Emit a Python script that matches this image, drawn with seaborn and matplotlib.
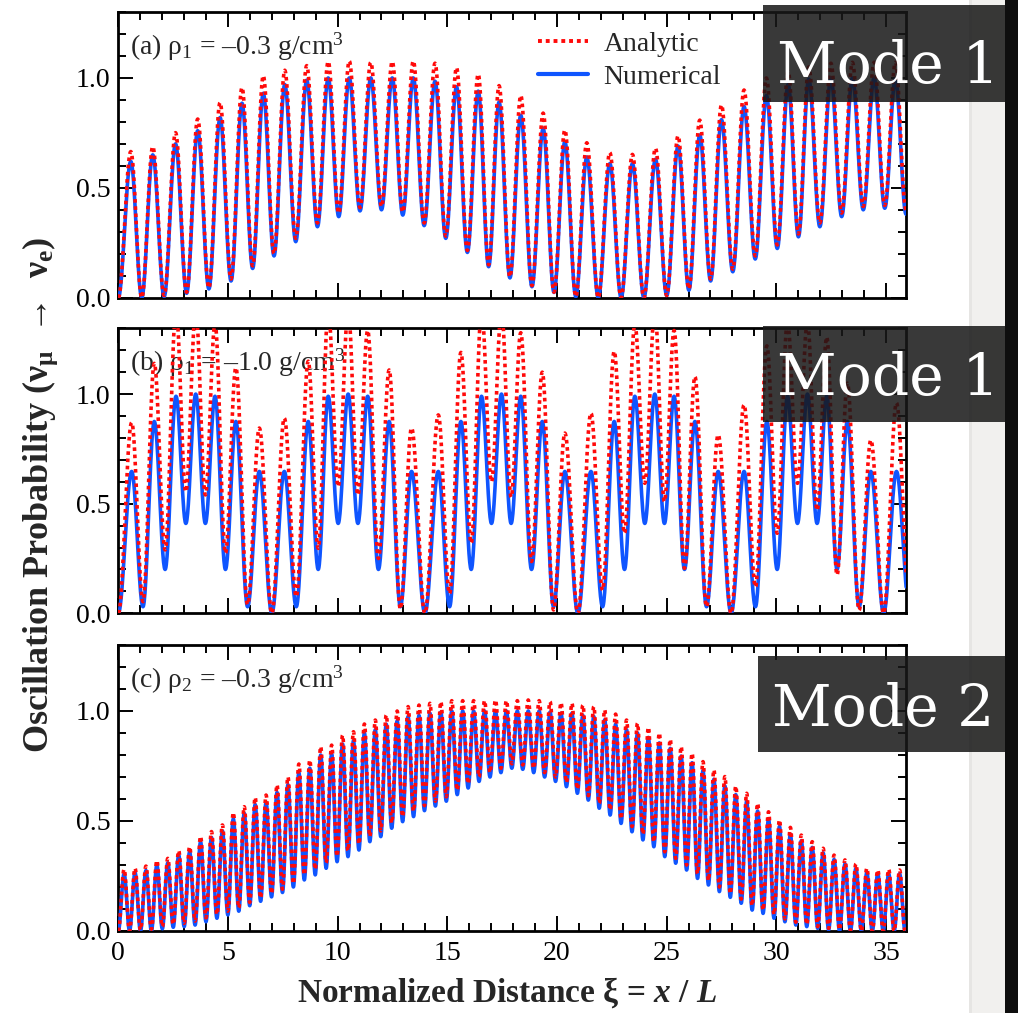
import numpy as np
import pandas as pd
import matplotlib
matplotlib.use("Agg")
import matplotlib.pyplot as plt
import seaborn as sns
from matplotlib.lines import Line2D
from matplotlib.patches import Rectangle
from matplotlib.ticker import MultipleLocator, FormatStrFormatter

# ---------------------------------------------------------------------------
# Oscillation extrema: position of every maximum, the maximum value, and the
# minimum reached right after it (numerical solution vs. analytic formula).
# ---------------------------------------------------------------------------
A_PEAK_X = [0.57, 1.57, 2.61, 3.62, 4.64, 5.64, 6.61, 7.59, 8.59, 9.57, 10.53, 11.51,
            12.49, 13.45, 14.44, 15.42, 16.41, 17.36, 18.35, 19.37, 20.36, 21.36, 22.41, 23.44,
            24.49, 25.52, 26.51, 27.50, 28.53, 29.55, 30.54, 31.48, 32.49, 33.47, 34.46, 35.43]
A_NUM_PEAK = [0.62, 0.65, 0.70, 0.76, 0.82, 0.885, 0.93, 0.97, 0.99, 1.0, 1.0, 1.0,
              1.0, 1.0, 0.985, 0.96, 0.94, 0.89, 0.83, 0.77, 0.71, 0.64, 0.61, 0.61,
              0.63, 0.69, 0.74, 0.81, 0.87, 0.92, 0.97, 0.995, 1.0, 1.0, 1.0, 0.995]
A_NUM_TROUGH = [0.0, 0.005, 0.02, 0.04, 0.076, 0.133, 0.19, 0.255, 0.323, 0.369, 0.395, 0.40,
                0.376, 0.328, 0.27, 0.206, 0.141, 0.09, 0.05, 0.024, 0.005, 0.0, 0.0, 0.0,
                0.01, 0.034, 0.076, 0.118, 0.176, 0.224, 0.277, 0.323, 0.369, 0.40, 0.407, 0.38]
A_ANA_PEAK = [0.665, 0.687, 0.751, 0.813, 0.888, 0.956, 1.01, 1.035, 1.056, 1.074, 1.077, 1.071,
              1.074, 1.077, 1.067, 1.047, 1.017, 0.965, 0.92, 0.84, 0.763, 0.705, 0.66, 0.652,
              0.68, 0.736, 0.808, 0.877, 0.945, 1.0, 1.03, 1.05, 1.067, 1.071, 1.071, 1.071]
A_ANA_TROUGH = [0.0, 0.01, 0.025, 0.045, 0.085, 0.145, 0.2, 0.27, 0.34, 0.385, 0.41, 0.415,
                0.39, 0.34, 0.28, 0.215, 0.15, 0.095, 0.055, 0.025, 0.005, 0.0, 0.0, 0.0,
                0.01, 0.04, 0.085, 0.13, 0.19, 0.24, 0.29, 0.34, 0.385, 0.415, 0.42, 0.40]

B_PEAK_X = [0.61, 1.64, 2.63, 3.53, 4.41, 5.36, 6.43, 7.57, 8.66, 9.57, 10.48, 11.37,
            12.35, 13.37, 14.59, 15.62, 16.56, 17.47, 18.35, 19.33, 20.36, 21.55, 22.61, 23.55,
            24.46, 25.34, 26.29, 27.35, 28.53, 29.57, 30.51, 31.42, 32.30, 33.24, 34.31, 35.48]
B_NUM_PEAK = [0.647, 0.875, 0.99, 1.0, 0.99, 0.875, 0.647, 0.647, 0.875, 0.99, 1.0, 0.99,
              0.875, 0.647, 0.647, 0.875, 0.99, 1.0, 0.99, 0.875, 0.647, 0.647, 0.875, 0.99,
              1.0, 0.99, 0.875, 0.647, 0.647, 0.875, 0.99, 1.0, 0.99, 0.875, 0.647, 0.647]
B_NUM_TROUGH = [0.03, 0.2, 0.41, 0.41, 0.2, 0.03, 0.0, 0.03, 0.2, 0.41, 0.41, 0.2,
                0.03, 0.0, 0.03, 0.2, 0.41, 0.41, 0.2, 0.03, 0.0, 0.03, 0.2, 0.41,
                0.41, 0.2, 0.03, 0.0, 0.03, 0.2, 0.41, 0.41, 0.2, 0.03, 0.0, 0.03]
B_ANA_PEAK = [0.87, 1.14, 1.38, 1.38, 1.32, 1.12, 0.845, 0.89, 1.15, 1.38, 1.38, 1.29,
              1.11, 0.845, 0.905, 1.19, 1.38, 1.38, 1.28, 1.10, 0.822, 0.913, 1.195, 1.32,
              1.38, 1.29, 1.08, 0.814, 0.951, 1.22, 1.33, 1.33, 1.26, 1.05, 0.79, 0.96]
B_ANA_TROUGH = [0.053, 0.289, 0.555, 0.54, 0.274, 0.04, 0.0, 0.076, 0.296, 0.578, 0.54, 0.25,
                0.02, 0.0, 0.09, 0.32, 0.6, 0.53, 0.236, 0.015, 0.0, 0.106, 0.365, 0.593,
                0.51, 0.205, 0.03, 0.0, 0.12, 0.365, 0.593, 0.47, 0.175, 0.015, 0.0, 0.05]

# panel (c): 72 evenly spaced maxima
C_FIRST_PEAK = 0.264
C_PEAK_SPACING = 0.498
C_NUM_PEAK = [0.26, 0.265, 0.275, 0.30, 0.31, 0.345, 0.36, 0.405, 0.425, 0.455, 0.51, 0.535,
              0.575, 0.585, 0.63, 0.665, 0.72, 0.74, 0.80, 0.805, 0.85, 0.865, 0.90, 0.915,
              0.94, 0.955, 0.975, 0.98, 0.99, 0.995, 1.0, 1.0, 1.0, 1.0, 1.0, 1.0,
              1.0, 1.0, 1.0, 0.995, 0.99, 0.99, 0.98, 0.975, 0.96, 0.94, 0.915, 0.90,
              0.88, 0.855, 0.83, 0.795, 0.765, 0.73, 0.69, 0.66, 0.62, 0.59, 0.545, 0.51,
              0.475, 0.44, 0.41, 0.38, 0.355, 0.325, 0.305, 0.285, 0.265, 0.26, 0.26, 0.26]
C_NUM_TROUGH = [0.0, 0.0, 0.0, 0.01, 0.017, 0.02, 0.027, 0.042, 0.058, 0.073, 0.09, 0.115,
                0.135, 0.155, 0.175, 0.2, 0.232, 0.255, 0.285, 0.315, 0.338, 0.368, 0.406, 0.429,
                0.467, 0.497, 0.52, 0.547, 0.568, 0.59, 0.62, 0.65, 0.68, 0.70, 0.72, 0.74,
                0.735, 0.72, 0.70, 0.68, 0.656, 0.626, 0.595, 0.558, 0.527, 0.489, 0.451, 0.414,
                0.383, 0.338, 0.308, 0.277, 0.239, 0.209, 0.179, 0.153, 0.126, 0.095, 0.08, 0.058,
                0.042, 0.027, 0.02, 0.012, 0.005, 0.0, 0.0, 0.0, 0.0, 0.0, 0.0, 0.0]
C_ANA_PEAK = [0.28, 0.285, 0.295, 0.32, 0.33, 0.365, 0.383, 0.43, 0.452, 0.482, 0.538, 0.565,
              0.607, 0.618, 0.664, 0.70, 0.759, 0.777, 0.838, 0.845, 0.89, 0.906, 0.941, 0.959,
              0.982, 1.0, 1.02, 1.027, 1.035, 1.042, 1.047, 1.047, 1.047, 1.047, 1.05, 1.047,
              1.047, 1.05, 1.047, 1.042, 1.038, 1.035, 1.027, 1.02, 1.005, 0.986, 0.959, 0.944,
              0.926, 0.90, 0.871, 0.838, 0.808, 0.77, 0.732, 0.702, 0.659, 0.626, 0.58, 0.542,
              0.505, 0.471, 0.436, 0.406, 0.376, 0.345, 0.323, 0.305, 0.285, 0.277, 0.28, 0.277]
C_ANA_TROUGH = [0.0, 0.005, 0.008, 0.02, 0.03, 0.035, 0.045, 0.06, 0.075, 0.09, 0.105, 0.13,
                0.15, 0.17, 0.19, 0.215, 0.255, 0.28, 0.31, 0.34, 0.365, 0.395, 0.43, 0.455,
                0.49, 0.52, 0.545, 0.57, 0.59, 0.61, 0.64, 0.67, 0.70, 0.72, 0.74, 0.76,
                0.755, 0.74, 0.72, 0.70, 0.675, 0.645, 0.615, 0.58, 0.55, 0.51, 0.475, 0.44,
                0.405, 0.36, 0.33, 0.30, 0.26, 0.23, 0.2, 0.17, 0.145, 0.115, 0.095, 0.075,
                0.055, 0.04, 0.03, 0.02, 0.012, 0.006, 0.003, 0.0, 0.0, 0.0, 0.0, 0.0]
C_PEAK_X = [C_FIRST_PEAK + C_PEAK_SPACING * k for k in range(len(C_NUM_PEAK))]

PANEL_LABELS = [r"(a) $\mathrm{\rho_1}$ = –0.3 g/cm$^{\mathrm{3}}$",
                r"(b) $\mathrm{\rho_1}$ = –1.0 g/cm$^{\mathrm{3}}$",
                r"(c) $\mathrm{\rho_2}$ = –0.3 g/cm$^{\mathrm{3}}$"]
MODE_LABELS = ["Mode 1", "Mode 1", "Mode 2"]
SERIES = ["Analytic", "Numerical"]
X_TICKS = [0, 5, 10, 15, 20, 25, 30, 35]
Y_TICKS = [0.0, 0.5, 1.0]

RED = "#ff0a0a"
BLUE = "#0f55ff"


def swing_curve(peak_x, peaks, troughs, n=28):
    """Trace P(xi) through alternating maxima and minima; each swing is half a cosine."""
    px = np.asarray(peak_x, float)
    gaps = np.diff(px)
    trough_x = np.append(px[:-1] + gaps / 2, px[-1] + gaps[-1] / 2)
    kx, ky = [0.0], [0.0]
    for xp, yp, xt, yt in zip(px, peaks, trough_x, troughs):
        kx += [xp, xt]
        ky += [yp, yt]
    t = np.linspace(0, 1, n, endpoint=False)
    ease = (1 - np.cos(np.pi * t)) / 2
    xs, ys = [], []
    for i in range(len(kx) - 1):
        xs.append(kx[i] + (kx[i + 1] - kx[i]) * t)
        ys.append(ky[i] + (ky[i + 1] - ky[i]) * ease)
    xs.append([kx[-1]])
    ys.append([ky[-1]])
    return np.concatenate(xs), np.concatenate(ys)


def panel_frame(peak_x, num_pk, num_tr, ana_pk, ana_tr):
    xn, yn = swing_curve(peak_x, num_pk, num_tr)
    xa, ya = swing_curve(peak_x, ana_pk, ana_tr)
    return pd.concat([
        pd.DataFrame({"xi": xn, "P": yn, "series": "Numerical"}),
        pd.DataFrame({"xi": xa, "P": ya, "series": "Analytic"}),
    ], ignore_index=True)


panels = [
    panel_frame(A_PEAK_X, A_NUM_PEAK, A_NUM_TROUGH, A_ANA_PEAK, A_ANA_TROUGH),
    panel_frame(B_PEAK_X, B_NUM_PEAK, B_NUM_TROUGH, B_ANA_PEAK, B_ANA_TROUGH),
    panel_frame(C_PEAK_X, C_NUM_PEAK, C_NUM_TROUGH, C_ANA_PEAK, C_ANA_TROUGH),
]

sns.set_theme(style="ticks")
plt.rcParams["font.family"] = ["Liberation Serif", "DejaVu Serif"]
plt.rcParams["mathtext.fontset"] = "custom"
plt.rcParams["mathtext.rm"] = "Liberation Serif"
plt.rcParams["mathtext.it"] = "Liberation Serif:italic"
plt.rcParams["mathtext.bf"] = "Liberation Serif:bold"
if "mathtext.bfit" in plt.rcParams:
    plt.rcParams["mathtext.bfit"] = "Liberation Serif:italic:bold"

W, H = 1018, 1013
fig = plt.figure(figsize=(W / 100, H / 100), dpi=100)
fig.patch.set_facecolor("white")

LEFT, RIGHT = 118.3, 905.7
BOUNDS = [(12.0, 297.7), (328.3, 613.3), (645.0, 931.0)]

axes = []
for k, (top, bot) in enumerate(BOUNDS):
    ax = fig.add_axes([LEFT / W, 1 - bot / H, (RIGHT - LEFT) / W, (bot - top) / H])
    df = panels[k]
    sns.lineplot(data=df[df.series == "Numerical"], x="xi", y="P", ax=ax,
                 color=BLUE, linewidth=2.6, estimator=None, sort=False, legend=False,
                 zorder=3)
    sns.lineplot(data=df[df.series == "Analytic"], x="xi", y="P", ax=ax,
                 color=RED, linewidth=2.6, linestyle=(0, (1.0, 1.0)),
                 dash_capstyle="butt", estimator=None, sort=False, legend=False,
                 zorder=4)
    ax.set_xlim(0, 35.9)
    ax.set_ylim(0, 1.3)
    ax.set_xlabel("")
    ax.set_ylabel("")
    ax.set_xticks(X_TICKS)
    ax.set_yticks(Y_TICKS)
    ax.xaxis.set_minor_locator(MultipleLocator(1))
    ax.yaxis.set_minor_locator(MultipleLocator(0.1))
    ax.yaxis.set_major_formatter(FormatStrFormatter("%.1f"))
    ax.tick_params(which="both", direction="in", top=True, right=True,
                   width=1.4, color="black", labelsize=20, labelcolor="black")
    ax.tick_params(which="major", length=11)
    ax.tick_params(which="minor", length=5.5)
    ax.tick_params(axis="y", pad=5.5)
    ax.tick_params(axis="x", pad=7)
    if k < 2:
        ax.tick_params(axis="x", labelbottom=False)
    for sp in ax.spines.values():
        sp.set_linewidth(2.0)
        sp.set_color("black")
    ax.text(0.015, 0.85, PANEL_LABELS[k], transform=ax.transAxes, fontsize=20,
            va="baseline", ha="left", zorder=1)
    axes.append(ax)

handles = [Line2D([], [], color=RED, linewidth=2.8, linestyle=(0, (1.0, 1.0)),
                  dash_capstyle="butt"),
           Line2D([], [], color=BLUE, linewidth=3.0)]
axes[0].legend(handles, SERIES, loc="upper left", bbox_to_anchor=(0.533, 0.933),
               frameon=False, fontsize=20, handlelength=1.8, handletextpad=0.55,
               labelspacing=0.28, borderpad=0, borderaxespad=0)

fig.text(40 / W, 1 - 495 / H,
         "Oscillation Probability (" + r"$\mathbf{\nu_{\mu}}$" + "  →  " + r"$\mathbf{\nu_{e}}$" + ")",
         rotation=90, ha="center", va="center", fontsize=26, fontweight="bold")
fig.text(507 / W, 1 - 993 / H,
         "Normalized Distance " + r"$\mathbf{\xi}$" + " = " + r"$\mathbfit{x}$" + " / " + r"$\mathbfit{L}$",
         ha="center", va="center", fontsize=24, fontweight="bold")

# slide edge on the right
fig.patches.append(Rectangle((969 / W, 0), (1005 - 969) / W, 1, transform=fig.transFigure,
                             facecolor="#f1f0ee", edgecolor="none", zorder=0))
fig.patches.append(Rectangle((969 / W, 0), 3 / W, 1, transform=fig.transFigure,
                             facecolor="#e6e5e3", edgecolor="none", zorder=0))
fig.patches.append(Rectangle((1005 / W, 0), (W - 1005) / W, 1, transform=fig.transFigure,
                             facecolor="#0e0e0e", edgecolor="none", zorder=0))

# mode tags
TAGS = [(763, 5, 1005, 102, 777, 83),
        (763, 326, 1005, 422, 777, 395),
        (758, 656, 1005, 752, 772, 726)]
for (x0, y0, x1, y1, tx, tb), label in zip(TAGS, MODE_LABELS):
    fig.patches.append(Rectangle((x0 / W, 1 - y1 / H), (x1 - x0) / W, (y1 - y0) / H,
                                 transform=fig.transFigure, facecolor="#181818",
                                 alpha=0.86, edgecolor="none", zorder=10))
    fig.text(tx / W, 1 - tb / H, label, color="white", fontsize=42,
             family="DejaVu Serif", ha="left", va="baseline", zorder=11)

fig.savefig("out.png", dpi=100)
